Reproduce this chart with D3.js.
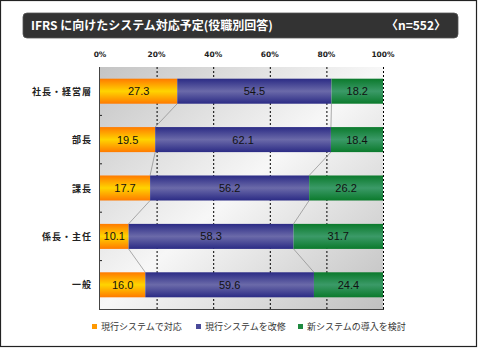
<!DOCTYPE html>
<html>
<head>
<meta charset="utf-8">
<script src="https://cdn.jsdelivr.net/npm/d3@7"></script>
<style>
  body { margin: 0; background: #fff; }
  svg { display: block; }
</style>
</head>
<body>
<div id="chart"></div>
<script>
// categories, series and ticks
var categories = ["社長・経営層", "部長", "課長", "係長・主任", "一般"];
var seriesNames = ["現行システムで対応", "現行システムを改修", "新システムの導入を検討"];
var currentSys = [27.3, 19.5, 17.7, 10.1, 16.0];
var modifySys = [54.5, 62.1, 56.2, 58.3, 59.6];
var newSys = [18.2, 18.4, 26.2, 31.7, 24.4];
var tickValues = [0, 20, 40, 60, 80, 100];
var titleText = "IFRS に向けたシステム対応予定(役職別回答)";
var sampleText = "〈n=552〉";

var W = 480, H = 348;
var plot = {left: 100, right: 383, top: 67, bottom: 309};

var svg = d3.select("#chart")
    .append("svg")
    .attr("width", W)
    .attr("height", H);

var defs = svg.append("defs");

// plot background: dark corners top-left / bottom-right
var bg = defs.append("linearGradient").attr("id", "bgGrad")
    .attr("x1", 0).attr("y1", 0).attr("x2", 1).attr("y2", 1);
bg.append("stop").attr("offset", 0).attr("stop-color", "#c4c4c4");
bg.append("stop").attr("offset", 0.5).attr("stop-color", "#f7f7f7");
bg.append("stop").attr("offset", 1).attr("stop-color", "#c0c0c0");

// bar gradients (edges darker, center lighter)
var barColors = [
    {id: "g0", edge: "#ff7a00", mid: "#ffd400", legend: "#ff9900"},
    {id: "g1", edge: "#2b2b85", mid: "#6b6aa9", legend: "#4a4a99"},
    {id: "g2", edge: "#0b7a2c", mid: "#3b9a68", legend: "#1f8a40"}
];
barColors.forEach(function(c) {
    var g = defs.append("linearGradient").attr("id", c.id)
        .attr("x1", 0).attr("y1", 0).attr("x2", 0).attr("y2", 1);
    g.append("stop").attr("offset", 0).attr("stop-color", c.edge);
    g.append("stop").attr("offset", 0.5).attr("stop-color", c.mid);
    g.append("stop").attr("offset", 1).attr("stop-color", c.edge);
});

// outer frame
svg.append("rect")
    .attr("x", 0.5).attr("y", 0.5)
    .attr("width", 476).attr("height", 346)
    .attr("fill", "#fff")
    .attr("stroke", "#222")
    .attr("stroke-width", 1.2);

// title bar
svg.append("rect")
    .attr("x", 23).attr("y", 13)
    .attr("width", 435).attr("height", 25)
    .attr("rx", 4).attr("ry", 4)
    .attr("fill", "#333333")
    .attr("stroke", "#555")
    .attr("stroke-width", 0.8);
svg.append("text")
    .attr("x", 31).attr("y", 30)
    .attr("fill", "#fff")
    .style("font-family", "'Noto Sans CJK JP', sans-serif")
    .style("font-size", "12px")
    .style("font-weight", "bold")
    .text(titleText);
svg.append("text")
    .attr("x", 446).attr("y", 30)
    .attr("fill", "#fff")
    .attr("text-anchor", "end")
    .style("font-family", "'Noto Sans CJK JP', sans-serif")
    .style("font-size", "12px")
    .style("font-weight", "bold")
    .text(sampleText);

// scales
var x = d3.scaleLinear()
    .domain([0, 100])
    .range([plot.left, plot.right])
    .clamp(true);

var y = d3.scaleBand()
    .domain(categories)
    .range([plot.top, plot.bottom])
    .paddingInner(0.483)
    .paddingOuter(0.2415);

// plot background
svg.append("rect")
    .attr("x", plot.left).attr("y", plot.top)
    .attr("width", plot.right - plot.left)
    .attr("height", plot.bottom - plot.top)
    .attr("fill", "url(#bgGrad)");

// dashed grid lines
svg.append("g")
    .selectAll("line")
    .data(tickValues.slice(1))
    .enter()
    .append("line")
    .attr("x1", function(d) { return x(d) + 0.5; })
    .attr("x2", function(d) { return x(d) + 0.5; })
    .attr("y1", plot.top)
    .attr("y2", plot.bottom)
    .attr("stroke", "#000")
    .attr("stroke-width", 1)
    .attr("stroke-dasharray", "2,2");

// top axis labels
svg.append("g")
    .selectAll("text")
    .data(tickValues)
    .enter()
    .append("text")
    .attr("x", function(d) { return x(d); })
    .attr("y", 57)
    .attr("text-anchor", "middle")
    .attr("fill", "#222")
    .style("font-family", "'DejaVu Sans', sans-serif")
    .style("font-size", "7.5px")
    .style("font-weight", "bold")
    .text(function(d) { return d + "%"; });

// stacked data
var rows = categories.map(function(c, i) {
    return {cat: c, s0: currentSys[i], s1: modifySys[i], s2: newSys[i]};
});
var stack = d3.stack().keys(["s0", "s1", "s2"]);
var layers = stack(rows);

// series (leader) lines between rows
layers.slice(0, 2).forEach(function(layer) {
    for (var i = 0; i < layer.length - 1; i++) {
        svg.append("line")
            .attr("x1", x(layer[i][1]))
            .attr("y1", y(categories[i]) + y.bandwidth())
            .attr("x2", x(layer[i + 1][1]))
            .attr("y2", y(categories[i + 1]))
            .attr("stroke", "#8a8a8a")
            .attr("stroke-width", 0.7);
    }
});

// bars
var layerG = svg.selectAll("g.layer")
    .data(layers)
    .enter()
    .append("g")
    .attr("class", "layer");

layerG.selectAll("rect")
    .data(function(d, i) { return d.map(function(v) { return {v: v, k: i}; }); })
    .enter()
    .append("rect")
    .attr("x", function(d) { return x(d.v[0]); })
    .attr("y", function(d) { return y(d.v.data.cat); })
    .attr("width", function(d) { return x(d.v[1]) - x(d.v[0]); })
    .attr("height", y.bandwidth())
    .attr("fill", function(d) { return "url(#" + barColors[d.k].id + ")"; });

// value labels
layerG.selectAll("text")
    .data(function(d, i) { return d.map(function(v) { return {v: v, k: i}; }); })
    .enter()
    .append("text")
    .attr("x", function(d) { return (x(d.v[0]) + x(d.v[1])) / 2; })
    .attr("y", function(d) { return y(d.v.data.cat) + y.bandwidth() / 2 + 4; })
    .attr("text-anchor", "middle")
    .attr("fill", "#111")
    .style("font-family", "'Liberation Sans', Arial, sans-serif")
    .style("font-size", "11px")
    .text(function(d) { return (d.v[1] - d.v[0]).toFixed(1); });

// left and bottom axis lines
svg.append("line")
    .attr("x1", plot.left - 0.5).attr("x2", plot.left - 0.5)
    .attr("y1", plot.top).attr("y2", plot.bottom)
    .attr("stroke", "#444").attr("stroke-width", 1);
svg.append("line")
    .attr("x1", plot.left - 1).attr("x2", plot.right + 1)
    .attr("y1", plot.bottom + 0.5).attr("y2", plot.bottom + 0.5)
    .attr("stroke", "#444").attr("stroke-width", 1);

// small ticks between categories
svg.append("g")
    .selectAll("line")
    .data(categories.slice(1))
    .enter()
    .append("line")
    .attr("x1", plot.left)
    .attr("x2", plot.left + 2)
    .attr("y1", function(d) { return y(d) - (y.step() - y.bandwidth()) / 2; })
    .attr("y2", function(d) { return y(d) - (y.step() - y.bandwidth()) / 2; })
    .attr("stroke", "#222");

// category labels
svg.append("g")
    .selectAll("text")
    .data(categories)
    .enter()
    .append("text")
    .attr("x", 92)
    .attr("y", function(d) { return y(d) + y.bandwidth() / 2 + 3.5; })
    .attr("text-anchor", "end")
    .attr("fill", "#222")
    .style("font-family", "'Noto Sans CJK JP', sans-serif")
    .style("font-size", "9px")
    .style("font-weight", "bold")
    .style("letter-spacing", "1px")
    .text(function(d) { return d; });

// legend
var legendX = [92, 196, 298];
var legend = svg.append("g")
    .selectAll("g")
    .data(seriesNames)
    .enter()
    .append("g")
    .attr("transform", function(d, i) { return "translate(" + legendX[i] + ",324)"; });
legend.append("rect")
    .attr("width", 5).attr("height", 5)
    .attr("fill", function(d, i) { return barColors[i].legend; });
legend.append("text")
    .attr("x", 9).attr("y", 6)
    .attr("fill", "#333")
    .style("font-family", "'Noto Sans CJK JP', sans-serif")
    .style("font-size", "9px")
    .text(function(d) { return d; });
</script>
</body>
</html>
